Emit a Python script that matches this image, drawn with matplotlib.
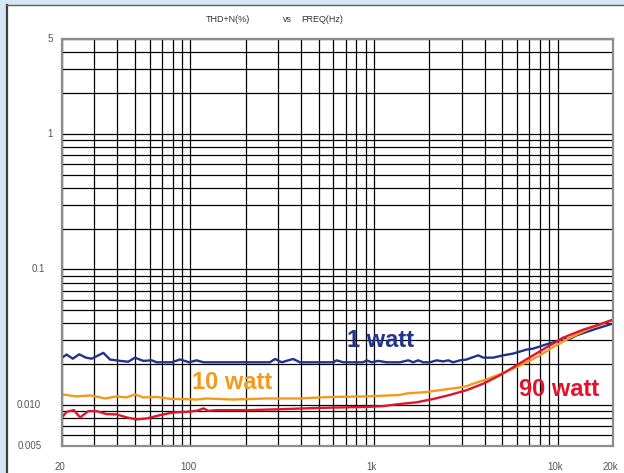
import matplotlib
matplotlib.use("Agg")
import matplotlib.pyplot as plt
from matplotlib.patches import Rectangle
from matplotlib.lines import Line2D
from matplotlib.ticker import LogLocator, NullFormatter, NullLocator
from matplotlib import transforms

# THD+N (%) versus frequency (Hz) at three output powers
freq_1w = [20, 21.2, 22.9, 24.8, 27.0, 29.0, 33.6, 36.5, 41.4, 45.9, 49.9, 55.4,
           61.6, 65.6, 79.1, 87.8, 98.6, 108, 118, 271, 289, 314, 363, 395,
           600, 626, 680, 874, 912, 970, 1054, 1171, 1384, 1536, 1635, 1740,
           1853, 2015, 2192, 2380, 2535, 2698, 2935, 3192, 3398, 3692, 3932,
           4455, 5051, 5725, 6771, 7356, 8702, 9986, 10711, 11408, 12676,
           15606, 20000]
thd_1w = [0.0224, 0.0236, 0.0220, 0.0237, 0.0224, 0.0220, 0.0243, 0.0217,
          0.0212, 0.0209, 0.0224, 0.0212, 0.0214, 0.0207, 0.0207, 0.0217,
          0.0207, 0.0214, 0.0207, 0.0207, 0.0219, 0.0207, 0.0219, 0.0207,
          0.0207, 0.0214, 0.0207, 0.0207, 0.0214, 0.0207, 0.0212, 0.0207,
          0.0207, 0.0214, 0.0207, 0.0214, 0.0207, 0.0207, 0.0214, 0.0210,
          0.0214, 0.0207, 0.0214, 0.0217, 0.0224, 0.0233, 0.0224, 0.0224,
          0.0233, 0.0240, 0.0257, 0.0261, 0.0281, 0.0297, 0.0315, 0.0304,
          0.0327, 0.0360, 0.0400]

freq_10w = [20, 24.0, 28.4, 31.5, 34.3, 39.7, 45.0, 49.9, 55.4, 65.6, 79.1,
            89.7, 108, 123, 171, 260, 395, 508, 600, 912, 1384, 1504, 1933,
            2380, 2935, 3192, 3467, 4102, 4846, 5725, 6771, 8000, 9452,
            11180, 13207, 15606, 20000]
thd_10w = [0.0120, 0.0116, 0.0118, 0.0115, 0.0112, 0.0116, 0.0114, 0.0120,
           0.0114, 0.0115, 0.0111, 0.0111, 0.0110, 0.0112, 0.0110, 0.0112,
           0.0112, 0.0114, 0.0115, 0.0116, 0.0119, 0.0122, 0.0125, 0.0130,
           0.0135, 0.0138, 0.0144, 0.0155, 0.0169, 0.0186, 0.0207, 0.0233,
           0.0268, 0.0304, 0.0340, 0.0377, 0.0427]

freq_90w = [20, 21.2, 23.2, 25.1, 27.8, 30.9, 35.0, 39.7, 45.0, 51.0, 57.8,
            68.3, 80.7, 95.5, 108, 118, 125, 139, 211, 320, 508, 912, 1122,
            1384, 1706, 2100, 2590, 3192, 3932, 4846, 5975, 7356, 9070,
            11180, 13767, 16975, 20000]
thd_90w = [0.00812, 0.00893, 0.00919, 0.00812, 0.00903, 0.00903, 0.00859,
           0.00855, 0.00812, 0.00785, 0.00798, 0.00844, 0.00884, 0.00893,
           0.00908, 0.00946, 0.00908, 0.00919, 0.00919, 0.00935, 0.00955,
           0.00971, 0.00984, 0.0102, 0.0105, 0.0111, 0.0119, 0.0129, 0.0144,
           0.0166, 0.0197, 0.0233, 0.0276, 0.0322, 0.0360, 0.0394, 0.0427]

x_ticks = [20, 100, 1000, 10000, 20000]
x_tick_labels = ["20", "100", "1k", "10k", "20k"]
y_ticks = [5, 1, 0.1, 0.01, 0.005]
y_tick_labels = ["5", "1", "0.1", "0.010", "0.005"]
y_label_right_px = [53, 53, 45, 41, 42]

W, H = 624, 473
fig = plt.figure(figsize=(W / 100, H / 100), dpi=100)
fig.patch.set_facecolor("#d6e6f5")

# white card with dark left/top edge
fig.add_artist(Rectangle((6 / W, 0), 1 - 6 / W, 1 - 5 / H, transform=fig.transFigure,
                         facecolor="white", edgecolor="none", zorder=0))
fig.add_artist(Line2D([6.5 / W, 6.5 / W], [0, 1 - 5 / H], transform=fig.transFigure,
                      color="#3a3f48", lw=1.6, zorder=1))
fig.add_artist(Line2D([6 / W, 1], [1 - 5.5 / H, 1 - 5.5 / H], transform=fig.transFigure,
                      color="#5a5f68", lw=1.0, zorder=1))

ax = fig.add_axes([62 / W, 1 - 446 / H, (613 - 62) / W, (446 - 39) / H])
ax.set_xscale("log")
ax.set_yscale("log")
ax.set_xlim(20, 20000)
ax.set_ylim(0.005, 5)
ax.set_facecolor("white")

ax.xaxis.set_major_locator(LogLocator(base=10, subs=range(1, 10)))
ax.yaxis.set_major_locator(LogLocator(base=10, subs=range(1, 10)))
ax.xaxis.set_minor_locator(NullLocator())
ax.yaxis.set_minor_locator(NullLocator())
ax.xaxis.set_major_formatter(NullFormatter())
ax.yaxis.set_major_formatter(NullFormatter())
ax.tick_params(which="both", length=0)
ax.grid(True, which="major", color="black", lw=0.9)
ax.set_axisbelow(True)
for s in ax.spines.values():
    s.set_color("#8c8c8c")
    s.set_linewidth(1.6)

ax.plot(freq_1w, thd_1w, color="#22338c", lw=1.7, solid_joinstyle="round")
ax.plot(freq_10w, thd_10w, color="#f39a1c", lw=1.7, solid_joinstyle="round")
ax.plot(freq_90w, thd_90w, color="#e3132c", lw=1.7, solid_joinstyle="round")

tick_font = dict(family="Liberation Sans", fontsize=7, color="#555555")

# y-axis labels
ytrans = transforms.blended_transform_factory(fig.transFigure, ax.transData)
for v, lab, rpx in zip(y_ticks, y_tick_labels, y_label_right_px):
    ax.text(rpx / W, v, lab, transform=ytrans, ha="right", va="center",
            clip_on=False, **tick_font)

# x-axis labels
xtrans = transforms.offset_copy(
    transforms.blended_transform_factory(ax.transData, fig.transFigure),
    fig=fig, x=-2.5, y=0, units="dots")
for v, lab in zip(x_ticks, x_tick_labels):
    ax.text(v, 1 - 467 / H, lab, transform=xtrans, ha="center", va="center",
            clip_on=False, **tick_font)

# header
head_font = dict(family="Liberation Sans", fontsize=6.5, color="#333333",
                 ha="center", va="center")
fig.text(228 / W, 1 - 19 / H, "THD+N(%)", **head_font)
fig.text(287 / W, 1 - 19 / H, "vs", **head_font)
fig.text(322 / W, 1 - 19 / H, "FREQ(Hz)", **head_font)

# series labels
lab_font = dict(family="Liberation Sans", fontsize=17, fontweight="bold",
                ha="center", va="center")
fig.text(381 / W, 1 - 340 / H, "1 watt", color="#22338c", **lab_font)
fig.text(232 / W, 1 - 382 / H, "10 watt", color="#f39a1c", **lab_font)
fig.text(559 / W, 1 - 389 / H, "90 watt", color="#e3132c", **lab_font)

fig.savefig("out.png", dpi=100, facecolor=fig.get_facecolor())
